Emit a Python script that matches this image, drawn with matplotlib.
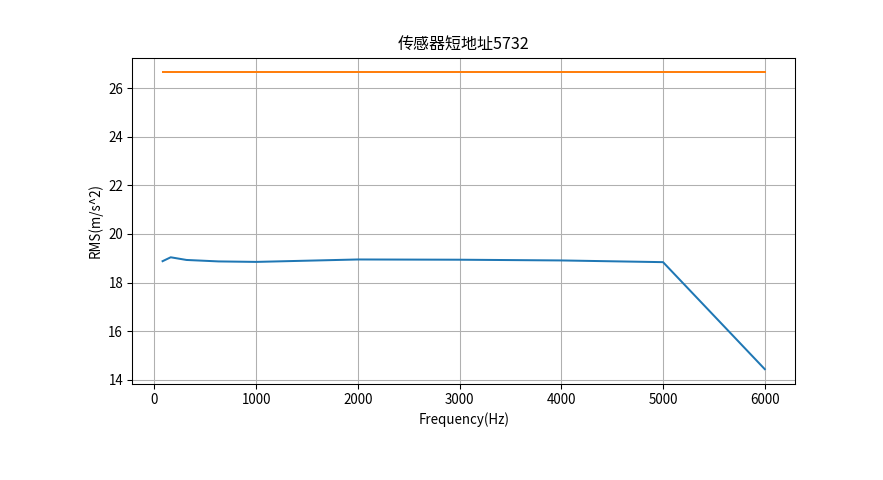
import matplotlib
matplotlib.use('Agg')
import matplotlib.pyplot as plt

# 频率点 (Hz) 和 RMS 值
freqs = [80, 160, 315, 630, 1000, 2000, 3000, 4000, 5000, 6000]
rms_vals = [18.88, 19.04, 18.93, 18.87, 18.85, 18.95, 18.94, 18.91, 18.84, 14.44]
limit_vals = [26.64] * len(freqs)

plt.rcParams['font.family'] = ['Noto Sans CJK SC', 'DejaVu Sans']
plt.rcParams['axes.unicode_minus'] = False

fig = plt.figure(figsize=(9.2, 5), dpi=96)
plt.subplots_adjust(left=0.15, right=0.9, bottom=0.2, top=0.88)

plt.plot(freqs, rms_vals)
plt.plot(freqs, limit_vals)
plt.title('传感器短地址5732')
plt.xlabel('Frequency(Hz)')
plt.ylabel('RMS(m/s^2)')
plt.grid(True)

plt.savefig('out.png', dpi=96)
